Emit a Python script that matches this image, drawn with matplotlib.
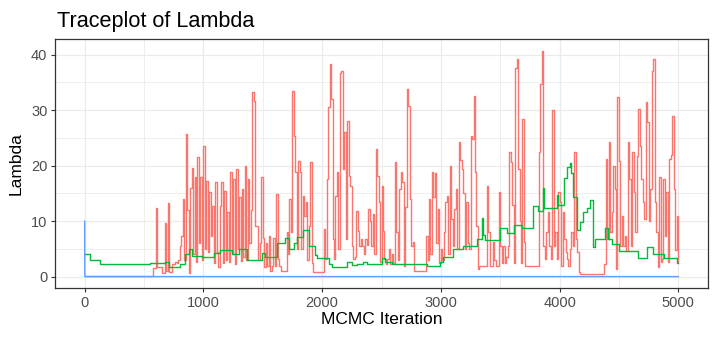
import matplotlib
matplotlib.use("Agg")
import matplotlib.pyplot as plt
import numpy as np

plt.rcParams['font.family'] = ['Liberation Sans', 'DejaVu Sans']

# ---- data ----
# red chain: one value every 12.5 iterations, one row per 100 iterations
red_rows = [
    [0.2] * 8,                                            # 0
    [0.2] * 8,                                            # 100
    [0.2] * 8,                                            # 200
    [0.2] * 8,                                            # 300
    [0.2] * 8,                                            # 400
    [0.2, 0.2, 0.2, 0.2, 0.2, 0.2, 1.5, 1.5],             # 500
    [12.4, 1.7, 1.7, 1.7, 0.6, 0.6, 9.6, 1.0],            # 600
    [13.2, 0.8, 0.8, 2.2, 2.2, 2.6, 2.4, 3.0],            # 700
    [5.5, 7.4, 14.0, 3.0, 25.8, 12.0, 0.6, 16.0],         # 800
    [19.6, 4.0, 18.0, 2.6, 21.5, 6.0, 18.0, 3.0],         # 900
    [23.6, 5.0, 17.3, 4.5, 15.2, 7.4, 12.8, 2.5],         # 1000
    [17.0, 4.4, 1.7, 12.8, 17.0, 2.5, 15.5, 3.0],         # 1100
    [11.6, 2.6, 18.8, 4.0, 17.6, 2.3, 19.4, 5.0],         # 1200
    [14.3, 2.8, 15.8, 3.5, 20.0, 3.0, 17.6, 6.0],         # 1300
    [12.0, 33.2, 31.7, 9.2, 9.2, 3.0, 6.0, 17.9],         # 1400
    [7.0, 1.7, 6.0, 2.0, 7.4, 1.1, 2.0, 7.0],             # 1500
    [2.0, 14.9, 3.2, 2.0, 1.1, 1.1, 1.1, 1.1],            # 1600
    [8.0, 4.0, 14.0, 8.0, 33.4, 25.4, 18.8, 5.0],         # 1700
    [20.9, 18.8, 5.0, 14.6, 11.0, 13.4, 3.0, 9.2],        # 1800
    [20.6, 2.5, 0.8, 0.8, 0.8, 0.8, 0.8, 0.8],            # 1900
    [0.8, 8.6, 3.2, 17.6, 30.5, 38.4, 32.0, 6.8],         # 2000
    [3.2, 14.6, 18.8, 5.0, 36.8, 37.1, 19.4, 26.0],       # 2100
    [6.8, 28.1, 18.2, 16.4, 5.6, 3.2, 3.5, 11.9],         # 2200
    [8.3, 5.6, 6.8, 5.6, 4.0, 6.8, 5.8, 12.2],            # 2300
    [10.0, 5.6, 11.3, 4.0, 23.0, 18.2, 13.4, 2.6],        # 2400
    [16.4, 8.3, 3.2, 2.3, 3.2, 5.0, 2.3, 4.0],            # 2500
    [2.5, 20.6, 8.0, 3.0, 15.8, 18.8, 17.0, 2.0],         # 2600
    [12.5, 33.8, 30.8, 14.0, 5.6, 6.2, 1.1, 1.1],         # 2700
    [1.1, 1.1, 1.1, 1.1, 1.1, 1.1, 7.4, 3.0],             # 2800
    [14.0, 4.0, 18.8, 14.3, 18.6, 6.0, 12.2, 2.5],        # 2900
    [5.0, 3.0, 8.0, 13.4, 14.6, 4.0, 20.0, 10.4],         # 3000
    [5.6, 12.2, 15.8, 5.0, 24.2, 21.0, 19.4, 15.0],       # 3100
    [5.0, 13.4, 6.0, 5.0, 25.4, 24.8, 32.6, 18.8],        # 3200
    [9.2, 1.4, 1.9, 1.9, 1.9, 1.9, 1.9, 16.4],            # 3300
    [8.0, 1.9, 1.9, 6.2, 3.0, 1.9, 1.9, 15.2],            # 3400
    [5.6, 2.5, 5.6, 2.5, 3.5, 5.6, 22.4, 20.6],           # 3500
    [13.0, 2.5, 37.7, 39.2, 19.4, 10.0, 2.5, 28.4],       # 3600
    [6.2, 1.9, 1.9, 1.9, 1.9, 1.9, 1.9, 1.9],             # 3700
    [1.9, 1.9, 22.4, 34.7, 40.7, 5.6, 3.2, 8.0],          # 3800
    [11.6, 5.6, 3.2, 30.0, 5.6, 8.0, 3.2, 15.2],          # 3900
    [13.4, 1.9, 11.6, 6.8, 4.4, 3.2, 1.9, 5.0],           # 4000
    [8.0, 5.6, 22.4, 6.8, 4.4, 0.8, 0.5, 0.5],            # 4100
    [0.5] * 8,                                            # 4200
    [0.5, 0.5, 0.5, 0.5, 0.5, 0.5, 2.3, 21.2],            # 4300
    [6.8, 24.2, 8.0, 11.6, 20.0, 15.8, 1.4, 32.3],        # 4400
    [20.9, 5.6, 11.0, 5.6, 7.4, 4.7, 24.2, 17.6],         # 4500
    [5.6, 22.4, 15.2, 8.0, 21.8, 30.2, 23.6, 17.6],       # 4600
    [13.4, 10.4, 31.4, 27.8, 10.0, 15.8, 37.1, 39.2],     # 4700
    [13.4, 8.0, 1.7, 17.9, 2.6, 3.2, 17.6, 7.4],          # 4800
    [15.2, 2.6, 21.2, 22.0, 29.0, 15.8, 4.8, 11.0],       # 4900
    [2.6],                                                # 5000
]
red_values = [v for row in red_rows for v in row]
red_iter = [12.5 * i for i in range(len(red_values))]

green_iter = [0, 46, 130, 174, 384, 553, 680, 708, 806, 848, 876, 904, 988,
              1087, 1143, 1241, 1297, 1368, 1494, 1522, 1620, 1685, 1719, 1761,
              1789, 1837, 1887, 1938, 1958, 2056, 2084, 2210, 2250, 2291, 2348,
              2376, 2502, 2530, 2587, 2800, 2880, 2994, 3022, 3106, 3190, 3302,
              3344, 3358, 3372, 3499, 3555, 3612, 3682, 3780, 3822, 3860, 3870,
              3977, 3990, 4033, 4061, 4085, 4100, 4117, 4145, 4173, 4201, 4229,
              4257, 4285, 4299, 4384, 4411, 4440, 4500, 4660, 4740, 4785, 4880,
              4985, 5000]
green_values = [4.0, 3.0, 2.35, 2.2, 2.35, 2.5, 2.65, 1.75, 2.35, 4.0, 5.0, 3.7, 3.55,
                4.3, 4.8, 4.0, 5.0, 3.0, 4.2, 3.55, 6.1, 6.9, 5.0, 6.1,
                7.2, 8.4, 5.6, 3.9, 3.3, 2.35, 1.75, 2.65, 2.05, 2.2, 2.65,
                2.35, 3.4, 2.65, 2.2, 2.35, 2.0, 2.65, 3.55, 4.9, 5.5, 6.85,
                10.5, 7.5, 6.7, 8.7, 7.8, 9.4, 8.8, 12.7, 11.8, 15.9, 12.3,
                14.7, 13.0, 17.7, 19.8, 20.5, 18.6, 14.4, 8.5, 9.9, 11.7, 12.3,
                13.8, 5.4, 6.8, 8.8, 6.8, 5.9, 4.7, 3.3, 5.3, 4.1, 3.4,
                2.5, 2.5]

blue_iter = [0, 1, 5000]
blue_values = [10.0, 0.02, 0.02]

x_ticks = [0, 1000, 2000, 3000, 4000, 5000]
y_ticks = [0, 10, 20, 30, 40]

# ---- figure ----
fig = plt.figure(figsize=(7.18, 3.43), dpi=100)
ax = fig.add_axes([55 / 718, 1 - 288 / 343, (708 - 55) / 718, (288 - 39) / 343])

ax.plot(red_iter, red_values, color='#F8766D', lw=1.0, drawstyle='steps-post', zorder=3)
ax.plot(green_iter, green_values, color='#00BA38', lw=1.0, drawstyle='steps-post', zorder=4)
ax.plot(blue_iter, blue_values, color='#619CFF', lw=1.0, zorder=5)

ax.set_xlim(-250, 5250)
ax.set_ylim(-2.04, 42.84)
ax.set_xticks(x_ticks)
ax.set_yticks(y_ticks)
ax.set_xticks([500, 1500, 2500, 3500, 4500], minor=True)
ax.set_yticks([5, 15, 25, 35], minor=True)
ax.grid(which='major', color='#EBEBEB', lw=0.9, zorder=0)
ax.grid(which='minor', color='#EBEBEB', lw=0.6, zorder=0)
ax.set_axisbelow(True)
for s in ax.spines.values():
    s.set_color('#333333')
    s.set_linewidth(0.9)
ax.tick_params(which='major', length=3, width=0.8, color='#333333',
               labelcolor='#4D4D4D', labelsize=10.5, pad=2.5)
ax.tick_params(which='minor', length=0)

ax.set_xlabel('MCMC Iteration', fontsize=12.5, color='black', labelpad=2)
ax.set_ylabel('Lambda', fontsize=12.5, color='black', labelpad=5)
fig.text(57 / 718, 1 - 27 / 343, 'Traceplot of Lambda', fontsize=15.6, color='black',
         ha='left', va='baseline')

fig.savefig('out.png', dpi=100, facecolor='white')
